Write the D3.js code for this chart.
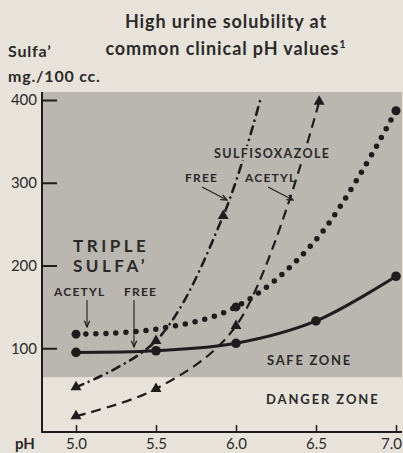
<!DOCTYPE html>
<html>
<head>
<meta charset="utf-8">
<script src="https://cdn.jsdelivr.net/npm/d3@7"></script>
<style>
  body { margin: 0; background: #e7e3db; }
  svg { display: block; font-family: Lato, "Open Sans", sans-serif; }
  text { fill: #2b2a28; }
</style>
</head>
<body>
<div id="chart"></div>
<script>
// DATA

const phTicks = [5.0, 5.5, 6.0, 6.5, 7.0];
const yTicks = [100, 200, 300, 400];

// triple sulfa, free (solid)
const tripleFreePh = [5.0, 5.5, 6.0, 6.5, 7.0];
const tripleFree = [95, 97, 106, 133, 187];

// triple sulfa, acetyl (dotted)
const tripleAcetylPh = [5.0, 5.5, 6.0, 6.5, 7.0];
const tripleAcetyl = [117, 123, 150, 231, 387];
const tripleAcetylMarks = [5.0, 6.0, 7.0];

// sulfisoxazole, free (dash dot)
const sulfFreePh = [5.0, 5.5, 5.92, 6.15];
const sulfFree = [53, 109, 260, 399];
const sulfFreeMarks = [5.0, 5.5, 5.92];

// sulfisoxazole, acetyl (dashed)
const sulfAcetylPh = [5.0, 5.5, 6.0, 6.52];
const sulfAcetyl = [18, 51, 127, 398];
const sulfAcetylMarks = [5.0, 5.5, 6.0, 6.52];

const safeFloor = 65;

// CHART

const width = 403;
const height = 453;
const ink = '#1e1d1b';
const zoneGray = '#bab6b0';

const svg = d3.select('#chart')
    .append('svg')
        .attr('width', width)
        .attr('height', height);

const x = d3.scaleLinear()
    .domain([5, 7])
    .range([76, 396]);
const y = d3.scaleLinear()
    .domain([0, 400])
    .range([431, 100]);

const frame = {left: 42, right: 402, top: 92, bottom: 432};

// zones
svg.append('rect')
    .attr('x', frame.left)
    .attr('y', frame.top)
    .attr('width', frame.right - frame.left)
    .attr('height', y(safeFloor) - frame.top)
    .attr('fill', zoneGray);

// axes
svg.append('g')
    .attr('transform', `translate(${frame.left},0)`)
    .call(d3.axisLeft(y).tickValues(yTicks).tickSize(-15).tickPadding(5).tickSizeOuter(0))
    .call(g => g.select('.domain').remove())
    .call(g => g.selectAll('line').attr('stroke', ink).attr('stroke-width', 2))
    .call(g => g.selectAll('text')
        .attr('font-size', 15)
        .attr('font-family', 'Lato, sans-serif')
        .attr('fill', '#2b2a28'));

svg.append('g')
    .attr('transform', `translate(0,${frame.bottom})`)
    .call(d3.axisBottom(x).tickValues(phTicks).tickFormat(d3.format('.1f'))
        .tickSize(-7).tickPadding(6).tickSizeOuter(0))
    .call(g => g.select('.domain').remove())
    .call(g => g.selectAll('line').attr('stroke', ink).attr('stroke-width', 1.5))
    .call(g => g.selectAll('text')
        .attr('font-size', 15)
        .attr('font-family', 'Lato, sans-serif')
        .attr('fill', '#2b2a28')
        .attr('dx', d => d === 7 ? -5 : 0));

svg.append('path')
    .attr('d', `M${frame.left},${frame.top}V${frame.bottom}H${frame.right}`)
    .attr('fill', 'none')
    .attr('stroke', ink)
    .attr('stroke-width', 2);

// lines
const curve = (xs, ys) => d3.line()
    .curve(d3.curveCatmullRom.alpha(0.5))
    .x((d, i) => x(xs[i]))
    .y(d => y(d))(ys);

svg.append('path')
    .attr('d', curve(sulfAcetylPh, sulfAcetyl))
    .attr('fill', 'none')
    .attr('stroke', ink)
    .attr('stroke-width', 2.2)
    .attr('stroke-dasharray', '10 6');

svg.append('path')
    .attr('d', curve(sulfFreePh, sulfFree))
    .attr('fill', 'none')
    .attr('stroke', ink)
    .attr('stroke-width', 2.6)
    .attr('stroke-linecap', 'round')
    .attr('stroke-dasharray', '8 6 0.1 6');

svg.append('path')
    .attr('d', curve(tripleAcetylPh, tripleAcetyl))
    .attr('fill', 'none')
    .attr('stroke', ink)
    .attr('stroke-width', 5.5)
    .attr('stroke-linecap', 'round')
    .attr('stroke-dasharray', '0 10');

svg.append('path')
    .attr('d', curve(tripleFreePh, tripleFree))
    .attr('fill', 'none')
    .attr('stroke', ink)
    .attr('stroke-width', 3);

// markers
const tri = d3.symbol(d3.symbolTriangle, 52)();

svg.selectAll('.tri-free')
    .data(sulfFreeMarks)
    .join('path')
        .attr('d', tri)
        .attr('transform', d => `translate(${x(d)},${y(sulfFree[sulfFreePh.indexOf(d)])})`)
        .attr('fill', ink);

svg.selectAll('.tri-acetyl')
    .data(sulfAcetylMarks)
    .join('path')
        .attr('d', tri)
        .attr('transform', d => `translate(${x(d)},${y(sulfAcetyl[sulfAcetylPh.indexOf(d)])})`)
        .attr('fill', ink);

svg.selectAll('.dot-acetyl')
    .data(tripleAcetylMarks)
    .join('circle')
        .attr('cx', d => x(d))
        .attr('cy', d => y(tripleAcetyl[tripleAcetylPh.indexOf(d)]))
        .attr('r', 4.5)
        .attr('fill', ink);

svg.selectAll('.dot-free')
    .data(tripleFreePh)
    .join('circle')
        .attr('cx', d => x(d))
        .attr('cy', (d, i) => y(tripleFree[i]))
        .attr('r', 4.8)
        .attr('fill', ink);

// arrows
svg.append('defs')
    .append('marker')
    .attr('id', 'head')
    .attr('viewBox', [0, 0, 10, 10])
    .attr('refX', 9)
    .attr('refY', 5)
    .attr('markerWidth', 7)
    .attr('markerHeight', 7)
    .attr('orient', 'auto')
    .append('path')
        .attr('d', 'M1,1.5L9,5L1,8.5')
        .attr('fill', 'none')
        .attr('stroke', ink)
        .attr('stroke-width', 1.6);

const arrow = (x1, y1, x2, y2) => svg.append('line')
    .attr('x1', x1).attr('y1', y1)
    .attr('x2', x2).attr('y2', y2)
    .attr('stroke', ink)
    .attr('stroke-width', 1.1)
    .attr('marker-end', 'url(#head)');

arrow(87, 300, 87, 327);
arrow(134, 300, 134, 347);
arrow(202, 187, 227, 200);
arrow(268, 187, 293, 200);

// texts
const label = (t, xx, yy, size, opts = {}) => svg.append('text')
    .attr('x', xx)
    .attr('y', yy)
    .attr('font-size', size)
    .attr('font-weight', opts.weight || 700)
    .attr('letter-spacing', opts.ls || 0)
    .attr('text-anchor', opts.anchor || 'start')
    .text(t);

label('High urine solubility at', 226, 28, 18, {anchor: 'middle', ls: 0.9});
const t2 = label('common clinical pH values', 226, 55, 18, {anchor: 'middle', ls: 0.9});
t2.append('tspan').attr('dy', -7).attr('font-size', 11).text('1');

label('Sulfa\u2019', 8, 57, 16, {ls: 0.8});
label('mg./100 cc.', 8, 82, 16, {ls: 0.8});
label('pH', 15, 449, 15);

label('TRIPLE', 73, 252, 17, {ls: 3.5});
label('SULFA\u2019', 73, 272, 17, {ls: 3.5});
label('ACETYL', 54, 296, 12, {ls: 1.2});
label('FREE', 124, 296, 12, {ls: 1.2});

label('SULFISOXAZOLE', 214, 158, 12.5, {ls: 1.4})
    .attr('stroke', zoneGray)
    .attr('stroke-width', 4)
    .attr('paint-order', 'stroke');
label('FREE', 185, 182, 12, {ls: 1.2});
label('ACETYL', 245, 182, 12, {ls: 1.2});

label('SAFE ZONE', 267, 365, 13, {ls: 1.7});
label('DANGER ZONE', 266, 404, 13, {ls: 1.9});
</script>
</body>
</html>
